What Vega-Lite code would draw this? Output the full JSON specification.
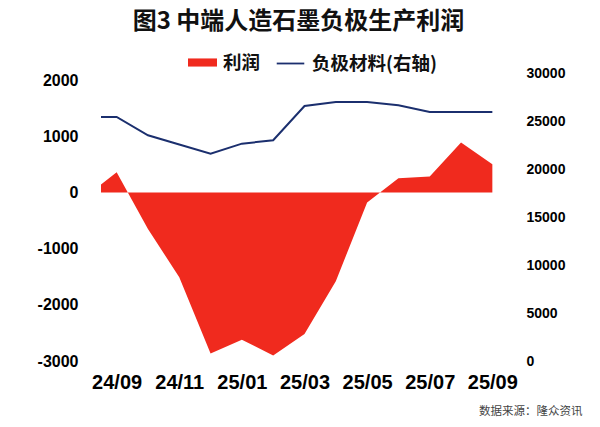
{
  "$schema": "https://vega.github.io/schema/vega-lite/v6.json",
  "autosize": {"type": "none"},
  "width": 407,
  "height": 288,
  "padding": {"left": 101, "top": 73, "right": 92, "bottom": 66},
  "background": "white",
  "title": {
    "text": "图3 中端人造石墨负极生产利润",
    "font": "Noto Sans CJK SC",
    "fontSize": 24,
    "fontWeight": "bold",
    "color": "#111111",
    "anchor": "middle",
    "dx": -6,
    "offset": 14
  },
  "data": {
    "values": [
      {"t": -0.5, "month": "24/08", "profit": 140, "material": 25420},
      {"t": 0, "month": "24/09", "profit": 360, "material": 25420},
      {"t": 1, "month": "24/10", "profit": -650, "material": 23510},
      {"t": 2, "month": "24/11", "profit": -1510, "material": 22555},
      {"t": 3, "month": "24/12", "profit": -2865, "material": 21600},
      {"t": 4, "month": "25/01", "profit": -2620, "material": 22640},
      {"t": 5, "month": "25/02", "profit": -2900, "material": 22990},
      {"t": 6, "month": "25/03", "profit": -2520, "material": 26560},
      {"t": 7, "month": "25/04", "profit": -1580, "material": 26980},
      {"t": 8, "month": "25/05", "profit": -180, "material": 26980},
      {"t": 9, "month": "25/06", "profit": 250, "material": 26650},
      {"t": 10, "month": "25/07", "profit": 285, "material": 25950},
      {"t": 11, "month": "25/08", "profit": 890, "material": 25950},
      {"t": 12, "month": "25/09", "profit": 500, "material": 25950}
    ]
  },
  "encoding": {
    "x": {
      "field": "t",
      "type": "quantitative",
      "scale": {"domain": [-0.5, 12.5], "nice": false, "zero": false},
      "axis": {
        "values": [0, 2, 4, 6, 8, 10, 12],
        "labelExpr": "['24/09','24/10','24/11','24/12','25/01','25/02','25/03','25/04','25/05','25/06','25/07','25/08','25/09'][datum.value]",
        "labelFont": "Liberation Sans",
        "labelFontSize": 20,
        "labelFontWeight": "bold",
        "labelColor": "#000000",
        "labelBaseline": "top",
        "labelPadding": 11,
        "ticks": false,
        "domain": false,
        "grid": false,
        "title": "数据来源：隆众资讯",
        "titleFont": "Noto Sans CJK SC",
        "titleFontSize": 11.5,
        "titleFontWeight": "normal",
        "titleColor": "#444444",
        "titleAlign": "right",
        "titleAnchor": "end",
        "titleBaseline": "alphabetic",
        "titleX": 481,
        "titleY": 53
      }
    }
  },
  "layer": [
    {
      "layer": [
        {
          "mark": {"type": "area", "interpolate": "linear", "opacity": 1},
          "encoding": {
            "y": {
              "field": "profit",
              "type": "quantitative",
              "scale": {"domain": [-3000, 2125], "nice": false, "zero": false},
              "axis": {
                "values": [-3000, -2000, -1000, 0, 1000, 2000],
                "labelExpr": "'' + datum.value",
                "labelFont": "Liberation Sans",
                "labelFontSize": 16,
                "labelFontWeight": "bold",
                "labelColor": "#000000",
                "labelPadding": 23,
                "ticks": false,
                "domain": false,
                "grid": false,
                "title": null
              }
            },
            "fill": {
              "datum": "利润",
              "type": "nominal",
              "scale": {"domain": ["利润"], "range": ["#f02a1e"]},
              "legend": {
                "orient": "none",
                "legendX": 87,
                "legendY": -25,
                "title": null,
                "labelFont": "Noto Sans CJK SC",
                "labelFontSize": 18.5,
                "labelFontWeight": "bold",
                "labelColor": "#111111",
                "labelOffset": 6,
                "symbolSize": 841,
                "symbolType": "M-1,-0.28H1V0.28H-1Z",
                "symbolOpacity": 1,
                "symbolStrokeWidth": 0
              }
            }
          }
        },
        {
          "mark": {"type": "rule", "color": "#c4c4c4", "strokeWidth": 1.5},
          "encoding": {"y": {"datum": 0, "type": "quantitative"}}
        }
      ]
    },
    {
      "mark": {"type": "line", "strokeWidth": 2, "interpolate": "linear"},
      "encoding": {
        "y": {
          "field": "material",
          "type": "quantitative",
          "scale": {"domain": [0, 30000], "nice": false},
          "axis": {
            "orient": "right",
            "values": [0, 5000, 10000, 15000, 20000, 25000, 30000],
            "labelExpr": "'' + datum.value",
            "labelFont": "Liberation Sans",
            "labelFontSize": 14,
            "labelFontWeight": "bold",
            "labelColor": "#000000",
            "labelPadding": 18,
            "ticks": false,
            "domain": false,
            "grid": false,
            "title": null
          }
        },
        "stroke": {
          "datum": "负极材料(右轴)",
          "type": "nominal",
          "scale": {"domain": ["负极材料(右轴)"], "range": ["#1b2f6e"]},
          "legend": {
            "orient": "none",
            "legendX": 174,
            "legendY": -25,
            "title": null,
            "labelFont": "Noto Sans CJK SC",
            "labelFontSize": 18.5,
            "labelFontWeight": "bold",
            "labelColor": "#111111",
            "labelOffset": 6,
            "symbolSize": 841,
            "symbolType": "M-0.95,0H0.95",
            "symbolStrokeWidth": 1.8
          }
        }
      }
    }
  ],
  "resolve": {"scale": {"y": "independent"}, "axis": {"y": "independent"}},
  "config": {
    "view": {"stroke": null}
  }
}
